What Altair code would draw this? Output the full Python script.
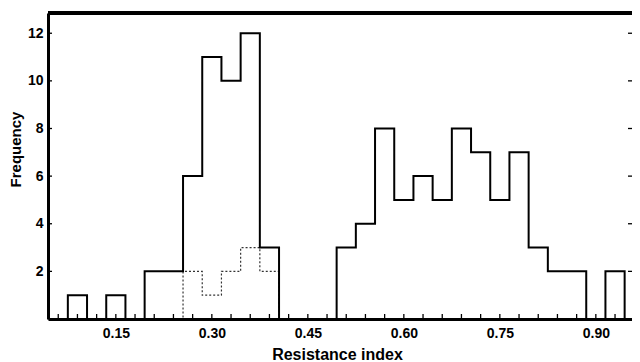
import altair as alt
import pandas as pd

# ---- data ----
bin_centers = [0.06, 0.09, 0.12, 0.15, 0.18, 0.21, 0.24, 0.27, 0.30, 0.33, 0.36,
               0.39, 0.42, 0.45, 0.48, 0.51, 0.54, 0.57, 0.60, 0.63, 0.66, 0.69,
               0.72, 0.75, 0.78, 0.81, 0.84, 0.87, 0.90, 0.93, 0.96]
counts_all = [0, 1, 0, 1, 0, 2, 2, 6, 11, 10, 12,
              3, 0, 0, 0, 3, 4, 8, 5, 6, 5, 8,
              7, 5, 7, 3, 2, 2, 0, 2, 0]
counts_sub = [0, 0, 0, 0, 0, 0, 0, 2, 1, 2, 3,
              2, 0, 0, 0, 0, 0, 0, 0, 0, 0, 0,
              0, 0, 0, 0, 0, 0, 0, 0, 0]
x_tick_labels = [0.15, 0.30, 0.45, 0.60, 0.75, 0.90]
y_tick_labels = [2, 4, 6, 8, 10, 12]
bin_width = 0.03

W, H = 584, 306
FONT = "Liberation Sans"

edges = [round(c - bin_width / 2, 4) for c in bin_centers]
df = pd.DataFrame({"edge": edges, "center": bin_centers,
                   "all": counts_all, "sub": counts_sub})
ydf = pd.DataFrame({"v": y_tick_labels})
one = pd.DataFrame({"a": [0]})

xscale = alt.Scale(domain=[0.044, 0.9565], nice=False, zero=False)
yscale = alt.Scale(domain=[0, 12.85], nice=False)

xaxis = alt.Axis(values=x_tick_labels, format=".2f", ticks=False, grid=False,
                 domainColor="black", domainWidth=3, zindex=1,
                 labelFont=FONT, labelFontWeight="bold", labelFontSize=14,
                 labelColor="black", labelPadding=7,
                 title="Resistance index", titleFont=FONT, titleFontWeight="bold",
                 titleFontSize=16, titleColor="black", titleBaseline="alphabetic",
                 titleAlign="center", titleX=289, titleY=40)
yaxis = alt.Axis(values=y_tick_labels, ticks=False, grid=False,
                 domainColor="black", domainWidth=3, zindex=1,
                 labelFont=FONT, labelFontWeight="bold", labelFontSize=14,
                 labelColor="black", labelPadding=5,
                 title="Frequency", titleFont=FONT, titleFontWeight="bold",
                 titleFontSize=15, titleColor="black", titleAngle=270,
                 titleBaseline="alphabetic", titleAlign="center",
                 titleX=-28, titleY=136)

base = alt.Chart(df)

sub_line = base.mark_line(interpolate="step-after", color="#333333",
                          strokeWidth=1.2, strokeDash=[2, 2]).encode(
    x=alt.X("edge:Q", scale=xscale, axis=xaxis),
    y=alt.Y("sub:Q", scale=yscale, axis=yaxis),
)
all_line = base.mark_line(interpolate="step-after", color="black",
                          strokeWidth=2).encode(
    x=alt.X("edge:Q", scale=xscale, axis=xaxis),
    y=alt.Y("all:Q", scale=yscale, axis=yaxis),
)
x_ticks = base.mark_rule(color="black", strokeWidth=1.3, clip=True).encode(
    x=alt.X("center:Q", scale=xscale, axis=xaxis),
    y=alt.value(H), y2=alt.value(H - 5),
)
right_ticks = alt.Chart(ydf).mark_rule(color="black", strokeWidth=1.3).encode(
    y=alt.Y("v:Q", scale=yscale, axis=yaxis),
    x=alt.value(W - 4), x2=alt.value(W),
)
left_ticks = alt.Chart(ydf).mark_rule(color="black", strokeWidth=1.3).encode(
    y=alt.Y("v:Q", scale=yscale, axis=yaxis),
    x=alt.value(0), x2=alt.value(4),
)
top_border = alt.Chart(one).mark_rule(color="black", strokeWidth=4).encode(
    x=alt.value(0), x2=alt.value(W), y=alt.value(0),
)

chart = alt.layer(sub_line, all_line, x_ticks, right_ticks, left_ticks, top_border).properties(
    width=W, height=H,
    autosize=alt.AutoSizeParams(type="none"),
    padding={"left": 40, "top": 5, "right": 0, "bottom": 43},
    background="white",
).configure_view(strokeWidth=0)

chart.save("out.html", embed_options={"renderer": "svg", "actions": False})
